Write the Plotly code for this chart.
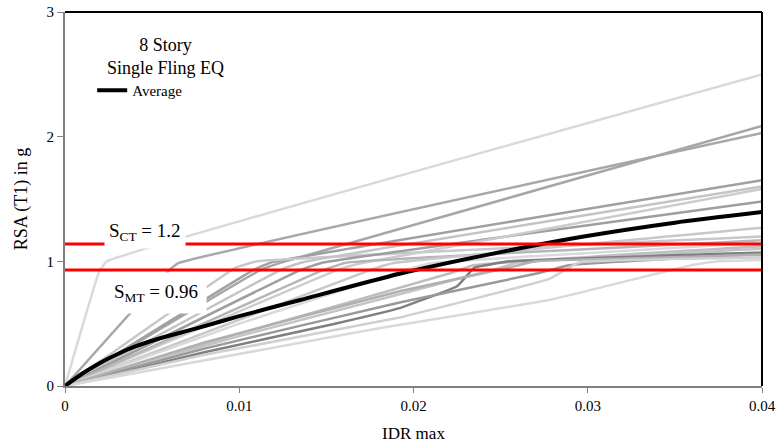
import plotly.graph_objects as go

# ---- data ----
x_ticks = [0, 0.01, 0.02, 0.03, 0.04]
x_tick_labels = ["0", "0.01", "0.02", "0.03", "0.04"]
y_ticks = [0, 1, 2, 3]

# individual records (IDR max, RSA(T1))
rec_x = [
    [0, 0.00195, 0.0024, 0.04],
    [0, 0.00585, 0.0065, 0.04],
    [0, 0.0112, 0.0124, 0.04],
    [0, 0.0108, 0.0118, 0.04],
    [0, 0.0098, 0.0110, 0.04],
    [0, 0.0125, 0.0137, 0.04],
    [0, 0.0135, 0.0148, 0.04],
    [0, 0.0158, 0.0172, 0.04],
    [0, 0.0148, 0.0162, 0.04],
    [0, 0.0175, 0.0188, 0.04],
    [0, 0.0100, 0.0195, 0.0210, 0.04],
    [0, 0.0100, 0.0220, 0.0235, 0.04],
    [0, 0.0100, 0.0245, 0.0260, 0.04],
    [0, 0.0080, 0.0155, 0.0192, 0.0225, 0.0235, 0.0255, 0.04],
    [0, 0.0080, 0.0192, 0.0270, 0.0290, 0.04],
    [0, 0.0080, 0.0192, 0.0255, 0.0270, 0.04],
    [0, 0.0080, 0.0192, 0.0278, 0.0295, 0.04],
    [0, 0.0181, 0.0278, 0.0360, 0.0375, 0.04],
]
rec_y = [
    [0, 0.914, 1.0, 2.50],
    [0, 0.91, 0.985, 2.03],
    [0, 0.93, 0.99, 2.085],
    [0, 0.93, 0.99, 1.65],
    [0, 0.95, 1.0, 1.20],
    [0, 0.94, 0.995, 1.60],
    [0, 0.93, 0.99, 1.48],
    [0, 0.94, 0.99, 1.58],
    [0, 0.93, 0.99, 1.17],
    [0, 0.93, 0.985, 1.27],
    [0, 0.50, 0.93, 0.985, 1.15],
    [0, 0.42, 0.90, 0.97, 1.12],
    [0, 0.40, 0.93, 0.99, 1.10],
    [0, 0.27, 0.50, 0.625, 0.80, 0.95, 1.0, 1.07],
    [0, 0.30, 0.67, 0.90, 0.97, 1.06],
    [0, 0.35, 0.76, 0.95, 1.0, 1.05],
    [0, 0.25, 0.55, 0.86, 0.99, 1.03],
    [0, 0.465, 0.69, 0.97, 1.0, 1.01],
]
rec_colors = ["#d9d9d9", "#a8a8a8", "#a6a6a6", "#a0a0a0", "#c8c8c8", "#c4c4c4",
              "#9e9e9e", "#cccccc", "#b5b5b5", "#c8c8c8", "#d9d9d9", "#bdbdbd",
              "#c4c4c4", "#7f7f7f", "#999999", "#b0b0b0", "#d0d0d0", "#d9d9d9"]

avg_x = [0, 0.001, 0.002, 0.003, 0.004, 0.0055, 0.0075, 0.010, 0.0135, 0.0192, 0.0245, 0.0296, 0.035, 0.04]
avg_y = [0, 0.10, 0.185, 0.255, 0.315, 0.385, 0.46, 0.56, 0.69, 0.90, 1.06, 1.195, 1.31, 1.395]

s_ct = 1.14
s_mt = 0.93
x_span = [0, 0.04]

serif = "Liberation Serif"

fig = go.Figure()
for xs, ys, c in zip(rec_x, rec_y, rec_colors):
    fig.add_trace(go.Scatter(x=xs, y=ys, mode="lines", showlegend=False,
                             line=dict(color=c, width=2.5, shape="spline", smoothing=0.25),
                             hoverinfo="skip"))

fig.add_trace(go.Scatter(x=avg_x, y=avg_y, mode="lines", name="Average",
                         line=dict(color="black", width=4, shape="spline", smoothing=0.6)))

for yv in [s_ct, s_mt]:
    fig.add_trace(go.Scatter(x=x_span, y=[yv, yv], mode="lines", showlegend=False,
                             line=dict(color="#ff0000", width=3), hoverinfo="skip"))

fig.add_annotation(x=0.0046, y=1.235, xref="x", yref="y", showarrow=False,
                   xanchor="center", yanchor="middle",
                   text="S<sub>CT</sub> = 1.2", bgcolor="white", borderpad=4,
                   font=dict(family=serif, size=19, color="black"))
fig.add_annotation(x=0.0052, y=0.75, xref="x", yref="y", showarrow=False,
                   xanchor="center", yanchor="middle",
                   text="S<sub>MT</sub> = 0.96", bgcolor="white", borderpad=8,
                   font=dict(family=serif, size=19, color="black"))
fig.add_annotation(x=0.1445, y=0.881, xref="paper", yref="paper", showarrow=False,
                   xanchor="center", yanchor="middle", align="center",
                   text="8 Story<br>Single Fling EQ",
                   font=dict(family=serif, size=18, color="black"))

# top and right frame in black
fig.add_shape(type="line", xref="x domain", yref="y domain", x0=0, x1=1, y0=1, y1=1,
              line=dict(color="black", width=2))
fig.add_shape(type="line", xref="x domain", yref="y domain", x0=1, x1=1, y0=0, y1=1,
              line=dict(color="black", width=2))

fig.update_layout(
    width=778, height=443,
    margin=dict(l=65, r=16, t=12, b=57),
    plot_bgcolor="white", paper_bgcolor="white",
    font=dict(family=serif, size=15, color="black"),
    legend=dict(x=0.039, y=0.79, xanchor="left", yanchor="middle",
                bgcolor="rgba(0,0,0,0)", font=dict(family=serif, size=15, color="black"),
                itemwidth=30, tracegroupgap=0),
    xaxis=dict(range=[0, 0.04], tickvals=x_ticks, ticktext=x_tick_labels,
               showgrid=False, zeroline=False, showline=True, linecolor="#808080",
               linewidth=2, ticks="outside", ticklen=5, tickcolor="#808080",
               automargin=False,
               tickfont=dict(family=serif, size=15, color="black"),
               title=dict(text="IDR max", font=dict(family=serif, size=17, color="black"),
                          standoff=14)),
    yaxis=dict(range=[0, 3], tickvals=y_ticks, showgrid=False, zeroline=False,
               showline=True, linecolor="#808080", linewidth=2, ticks="outside",
               ticklen=6, tickcolor="#808080", automargin=False,
               tickfont=dict(family=serif, size=15, color="black"),
               title=dict(text="RSA (T1) in g", font=dict(family=serif, size=18, color="black"),
                          standoff=14)),
)

# remove the default 8px page margin so the figure fills the window exactly
fig.write_html("out.html", config={"displayModeBar": False},
               post_script="document.body.style.margin='0px';document.body.style.overflow='hidden';")
